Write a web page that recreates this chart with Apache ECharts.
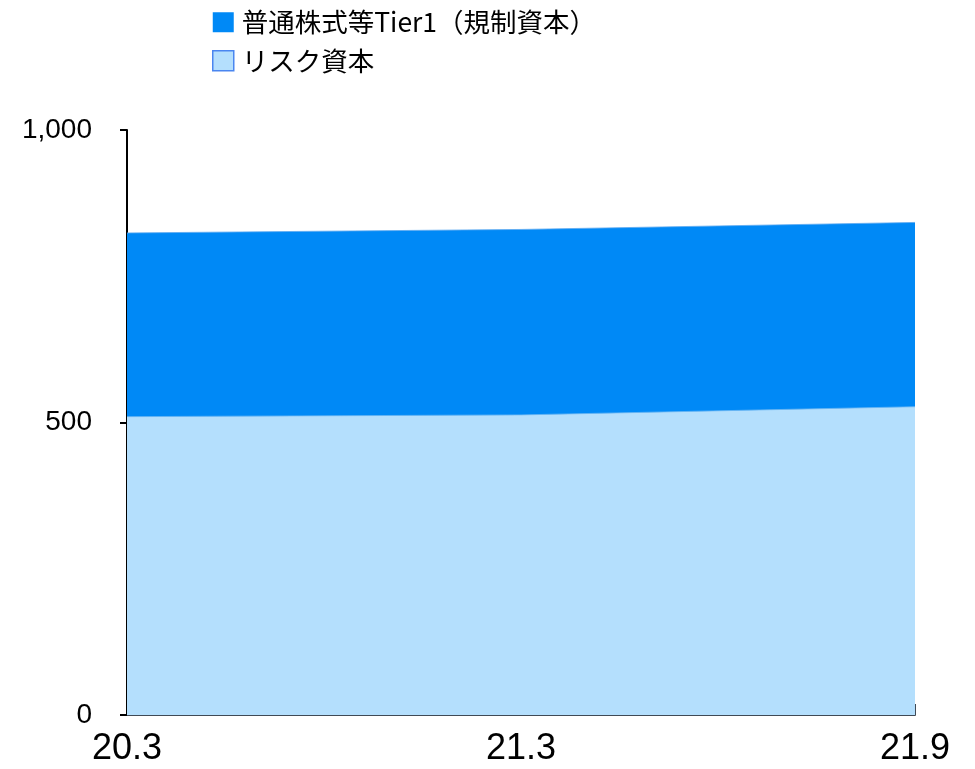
<!DOCTYPE html>
<html>
<head>
<meta charset="utf-8">
<script src="https://cdn.jsdelivr.net/npm/echarts@6/dist/echarts.min.js"></script>
<style>
html,body{margin:0;padding:0;background:#fff;}
#chart{width:975px;height:769px;}
</style>
</head>
<body>
<div id="chart"></div>
<script>
const categories = ['20.3', '21.3', '21.9'];
const seriesNames = ['普通株式等Tier1（規制資本）', 'リスク資本'];
const cet1Values = [824, 830, 842];
const riskCapitalValues = [510, 513, 527];
const yTicks = [0, 500, 1000];

const darkBlue = '#0089F6';
const lightBlue = '#B4DFFD';

const chart = echarts.init(document.getElementById('chart'), null, {renderer: 'canvas'});
chart.setOption({
  animation: false,
  backgroundColor: '#ffffff',
  grid: {left: 127, right: 60, top: 130, bottom: 54, containLabel: false},
  legend: {
    orient: 'vertical',
    left: 207,
    top: 4,
    itemWidth: 21,
    itemHeight: 20,
    itemGap: 12,
    icon: 'rect',
    selectedMode: false,
    textStyle: {fontSize: 26.5, color: '#000', fontFamily: '"Noto Sans CJK JP", sans-serif', padding: [0, 0, 0, 3]},
    data: [
      {name: seriesNames[0], itemStyle: {color: darkBlue, borderWidth: 0}},
      {name: seriesNames[1], itemStyle: {color: lightBlue, borderColor: '#4A86F0', borderWidth: 1.5}}
    ]
  },
  xAxis: {
    type: 'category',
    data: categories,
    boundaryGap: false,
    axisLine: {show: true, lineStyle: {color: '#404a55', width: 2}},
    axisTick: {show: true, inside: true, length: 11, lineStyle: {color: '#404a55', width: 1}},
    axisLabel: {fontSize: 36, color: '#000', fontFamily: '"Liberation Sans", Arial, sans-serif', margin: 16},
    splitLine: {show: false}
  },
  yAxis: {
    type: 'value',
    min: yTicks[0],
    max: yTicks[yTicks.length - 1],
    interval: yTicks[1] - yTicks[0],
    axisLine: {show: true, lineStyle: {color: '#000', width: 2}},
    axisTick: {show: true, inside: false, length: 7, lineStyle: {color: '#000', width: 2}},
    axisLabel: {
      fontSize: 28, color: '#000', fontFamily: '"Liberation Sans", Arial, sans-serif', margin: 35,
      formatter: v => v.toLocaleString('en-US')
    },
    splitLine: {show: false}
  },
  series: [
    {
      name: seriesNames[0],
      type: 'line',
      data: cet1Values,
      symbol: 'none',
      lineStyle: {width: 0.8, color: '#5AA8F0'},
      itemStyle: {color: darkBlue},
      areaStyle: {color: darkBlue, opacity: 1},
      z: 1
    },
    {
      name: seriesNames[1],
      type: 'line',
      data: riskCapitalValues,
      symbol: 'none',
      lineStyle: {width: 0.8, color: '#6BB6F2'},
      itemStyle: {color: lightBlue},
      areaStyle: {color: lightBlue, opacity: 1},
      z: 2
    }
  ]
});
</script>
</body>
</html>
